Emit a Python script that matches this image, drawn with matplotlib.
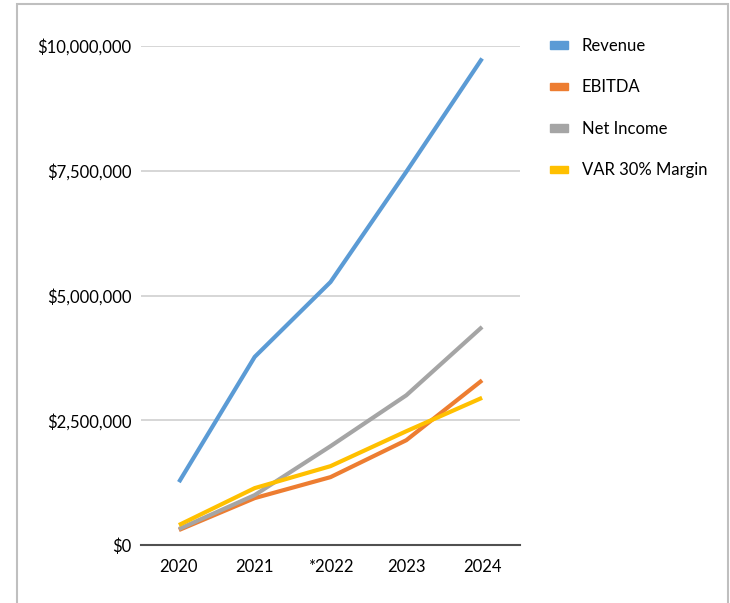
import matplotlib.pyplot as plt
from matplotlib.patches import Rectangle
from matplotlib.ticker import FuncFormatter

plt.rcParams['font.family'] = ['Lato', 'DejaVu Sans']

# data
years = ['2020', '2021', '*2022', '2023', '2024']
revenue = [1260000, 3770000, 5270000, 7480000, 9750000]
ebitda = [300000, 940000, 1360000, 2100000, 3300000]
net_income = [320000, 1000000, 1980000, 3000000, 4370000]
var_margin = [400000, 1140000, 1580000, 2280000, 2950000]

series = ['Revenue', 'EBITDA', 'Net Income', 'VAR 30% Margin']
colors = ['#5B9BD5', '#ED7D31', '#A5A5A5', '#FFC000']

fig = plt.figure(figsize=(7.3, 6.03), dpi=100)
ax = fig.add_axes([141 / 730, 1 - 545 / 603, 379 / 730, 499 / 603])

x = range(len(years))
for vals, name, c in zip([revenue, ebitda, net_income, var_margin], series, colors):
    ax.plot(x, vals, color=c, lw=3, label=name, solid_capstyle='butt')

ax.set_xlim(-0.5, len(years) - 0.5)
ax.set_ylim(0, 10000000)
ax.set_yticks([0, 2500000, 5000000, 7500000, 10000000])
ax.yaxis.set_major_formatter(FuncFormatter(lambda v, p: f'${v:,.0f}'))
ax.set_xticks(list(x))
ax.set_xticklabels(years)
ax.grid(axis='y', color='#D0D0D0', lw=1.2)
ax.set_axisbelow(True)
for s in ['top', 'right', 'left']:
    ax.spines[s].set_visible(False)
ax.spines['bottom'].set_color('#505050')
ax.spines['bottom'].set_linewidth(1.5)
ax.tick_params(length=0, labelsize=12, colors='black')
ax.tick_params(axis='y', pad=7)
ax.tick_params(axis='x', pad=10)

# legend
handles = [Rectangle((0, 0), 1, 1, color=c) for c in colors]
fig.legend(handles, series, loc='upper left', bbox_to_anchor=(550 / 730, 1 - 38 / 603),
           frameon=False, fontsize=12, handlelength=1.1, handleheight=0.3,
           labelspacing=1.53, handletextpad=0.8, borderpad=0, borderaxespad=0)

# outer border
fig.patches.append(Rectangle((17 / 730, -0.1), 711 / 730, 1.1 - 4 / 603, transform=fig.transFigure,
                             fill=False, edgecolor='#BFBFBF', lw=1.5))

fig.savefig('out.png', dpi=100)
